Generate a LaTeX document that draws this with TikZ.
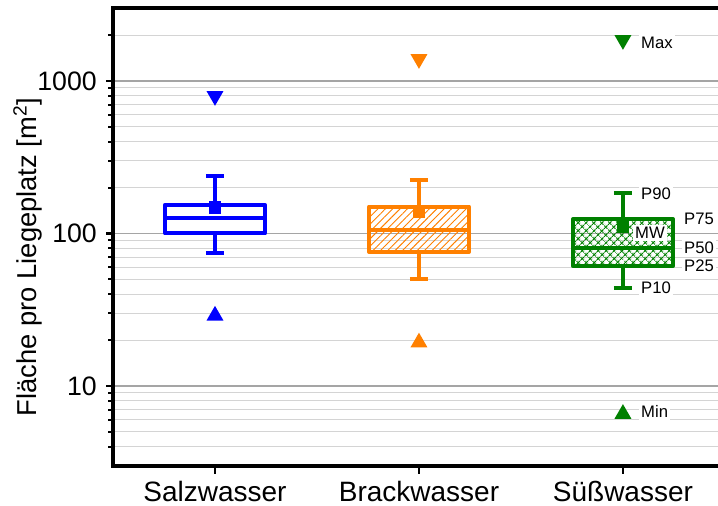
\documentclass[tikz,border=0pt]{standalone}
\usepackage{fontspec}
\setmainfont{Liberation Sans}
\usetikzlibrary{positioning,shapes.geometric,patterns.meta}
\definecolor{salz}{RGB}{0,0,255}
\definecolor{brack}{RGB}{255,128,0}
\definecolor{suess}{RGB}{0,128,0}
\definecolor{gridmaj}{RGB}{165,165,165}
\definecolor{gridmin}{RGB}{212,212,212}
\tikzset{
	boxline/.style={line width=3pt, line join=round},
	whisk/.style={line width=3pt},
	mwmark/.style={rectangle, inner sep=0, minimum size=9.5pt},
	maxmark/.style={regular polygon, regular polygon sides=3, shape border rotate=180, inner sep=0, minimum size=14.7pt, yshift=1.84pt},
	minmark/.style={regular polygon, regular polygon sides=3, inner sep=0, minimum size=14.7pt, yshift=-1.84pt},
	lbl/.style={font=\fontsize{12.5}{14}\selectfont, fill=white, inner sep=1.5pt},
}
\begin{document}
\begin{tikzpicture}[x=153pt, y=114.375pt, font=\fontsize{20}{24}\selectfont, line join=round]
	%%%%%%%%%%%%%%%%%%%%%%%%%%%%%%%%%
	\useasboundingbox (-0.054,0.213) rectangle (3.466,3.531);
	\clip (-0.054,0.213) rectangle (3.466,3.531);
	%%%%%%%%%%%%%%%%%%%%%%%%%%%%%%%%%
	\coordinate (S10) at (1,{log10(75)});
	\coordinate (S25) at (1,{log10(100)});
	\coordinate (S50) at (1,{log10(127)});
	\coordinate (S75) at (1,{log10(154)});
	\coordinate (S90) at (1,{log10(238)});
	\coordinate (SMW) at (1,{log10(148)});
	\coordinate (SMin) at (1,{log10(30)});
	\coordinate (SMax) at (1,{log10(768)});
	%%%%%%%%%%%%%%%%%%%%%%%%%%%%%%%%%
	\coordinate (B10) at (2,{log10(50)});
	\coordinate (B25) at (2,{log10(75.6)});
	\coordinate (B50) at (2,{log10(106)});
	\coordinate (B75) at (2,{log10(150)});
	\coordinate (B90) at (2,{log10(223)});
	\coordinate (BMW) at (2,{log10(140)});
	\coordinate (BMin) at (2,{log10(20)});
	\coordinate (BMax) at (2,{log10(1342)});
	%%%%%%%%%%%%%%%%%%%%%%%%%%%%%%%%%
	\coordinate (F10) at (3,{log10(44)});
	\coordinate (F25) at (3,{log10(61)});
	\coordinate (F50) at (3,{log10(80)});
	\coordinate (F75) at (3,{log10(124)});
	\coordinate (F90) at (3,{log10(183)});
	\coordinate (FMW) at (3,{log10(110)});
	\coordinate (FMin) at (3,{log10(6.8)});
	\coordinate (FMax) at (3,{log10(1789)});
	%%%%%%%%%%%%%%%%%%%%%%%%%%%%%%%%%
	\foreach \v in {4,5,6,7,8,9,20,30,40,50,60,70,80,90,200,300,400,500,600,700,800,900,2000} {
		\draw[gridmin, line width=0.75pt] (0.5,{log10(\v)}) -- (3.6,{log10(\v)});
		\draw[line width=1.5pt] (0.5,{log10(\v)}) -- ++(-3.5pt,0);
	}
	\foreach \v in {10,100,1000} {
		\draw[gridmaj, line width=1.1pt] (0.5,{log10(\v)}) -- (3.6,{log10(\v)});
		\draw[line width=1.8pt] (0.5,{log10(\v)}) -- ++(-5.5pt,0);
		\node[anchor=east, inner sep=0] (t\v) at ([xshift=-12pt]0.5,{log10(\v)}) {\v};
	}
	%%%%%%%%%%%%%%%%%%%%%%%%%%%%%%%%%
	\begin{scope}[salz]
		\draw[whisk] (S75) -- (S90);
		\draw[whisk] (S25) -- (S10);
		\draw[whisk] ([xshift=-6.75pt]S90) -- ([xshift=6.75pt]S90);
		\draw[whisk] ([xshift=-6.75pt]S10) -- ([xshift=6.75pt]S10);
		\draw[boxline] ([xshift=-37.5pt]S25) rectangle ([xshift=37.5pt]S75);
		\draw[boxline] ([xshift=-37.5pt]S50) -- ([xshift=37.5pt]S50);
		\node[mwmark, fill=salz] (mwS) at (SMW) {};
		\node[maxmark, fill=salz] (mxS) at (SMax) {};
		\node[minmark, fill=salz] (mnS) at (SMin) {};
	\end{scope}
	%%%%%%%%%%%%%%%%%%%%%%%%%%%%%%%%%
	\begin{scope}[brack]
		\draw[whisk] (B75) -- (B90);
		\draw[whisk] (B25) -- (B10);
		\draw[whisk] ([xshift=-6.75pt]B90) -- ([xshift=6.75pt]B90);
		\draw[whisk] ([xshift=-6.75pt]B10) -- ([xshift=6.75pt]B10);
		\draw[boxline, pattern={Lines[angle=45, distance=3.9pt, line width=0.7pt]}, pattern color=brack] ([xshift=-37.5pt]B25) rectangle ([xshift=37.5pt]B75);
		\draw[boxline] ([xshift=-37.5pt]B50) -- ([xshift=37.5pt]B50);
		\node[mwmark, fill=brack] (mwB) at (BMW) {};
		\node[maxmark, fill=brack] (mxB) at (BMax) {};
		\node[minmark, fill=brack] (mnB) at (BMin) {};
	\end{scope}
	%%%%%%%%%%%%%%%%%%%%%%%%%%%%%%%%%
	\begin{scope}[suess]
		\draw[whisk] (F75) -- (F90);
		\draw[whisk] (F25) -- (F10);
		\draw[whisk] ([xshift=-6.75pt]F90) -- ([xshift=6.75pt]F90);
		\draw[whisk] ([xshift=-6.75pt]F10) -- ([xshift=6.75pt]F10);
		\draw[boxline, pattern={Hatch[angle=45, distance=4pt, line width=0.8pt]}, pattern color=suess] ([xshift=-37.5pt]F25) rectangle ([xshift=37.5pt]F75);
		\draw[boxline] ([xshift=-37.5pt]F50) -- ([xshift=37.5pt]F50);
		\node[mwmark, fill=suess] (mwF) at (FMW) {};
		\node[maxmark, fill=suess] (mxF) at (FMax) {};
		\node[minmark, fill=suess] (mnF) at (FMin) {};
	\end{scope}
	%%%%%%%%%%%%%%%%%%%%%%%%%%%%%%%%%
	\node[lbl, right=12pt of FMax] (lMax) {Max};
	\node[lbl, right=12pt of F90] (l90) {P90};
	\node[lbl, right=44.25pt of F75] (l75) {P75};
	\node[lbl, right=2.5pt of mwF, yshift=-4.5pt] (lMW) {MW};
	\node[lbl, right=44.25pt of F50] (l50) {P50};
	\node[lbl, right=44.25pt of F25] (l25) {P25};
	\node[lbl, right=12pt of F10] (l10) {P10};
	\node[lbl, right=12pt of FMin] (lMin) {Min};
	%%%%%%%%%%%%%%%%%%%%%%%%%%%%%%%%%
	\draw[line width=2.8pt, line join=miter] (3.6,{log10(3000)}) -- (0.5,{log10(3000)}) -- (0.5,{log10(3)}) -- (3.6,{log10(3)});
	\foreach \x in {1,2,3}
		\draw[line width=2pt] (\x,{log10(3)}) -- ++(0,-6pt);
	\begin{scope}[font=\fontsize{21}{24}\selectfont]
		\node[anchor=base] (cS) at (1,0.245) {Salzwasser};
		\node[anchor=base] (cB) at (2,0.245) {Brackwasser};
		\node[anchor=base] (cF) at (3,0.245) {Süßwasser};
		\node[rotate=90, anchor=base, font=\fontsize{20.5}{24}\selectfont] (ylab) at (0.126,1.846) {Fläche pro Liegeplatz [m\textsuperscript{2}]};
	\end{scope}
	%%%%%%%%%%%%%%%%%%%%%%%%%%%%%%%%%
\end{tikzpicture}
\end{document}
